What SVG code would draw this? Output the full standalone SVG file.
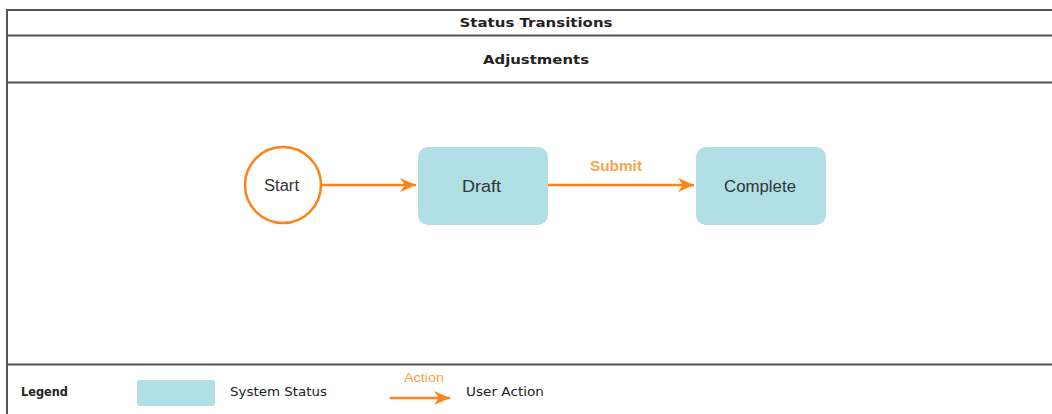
<svg xmlns="http://www.w3.org/2000/svg" width="1052" height="414" viewBox="0 0 1052 414">
<style>
.hdr{font-family:"DejaVu Sans",Verdana,sans-serif;font-weight:bold;font-size:13px;fill:#222;text-anchor:middle}
.lbl{font-family:"Liberation Sans",Arial,sans-serif;font-size:16px;fill:#333;text-anchor:middle}
.leg{font-family:"DejaVu Sans",Verdana,sans-serif;font-size:12px;fill:#222}
.act{font-family:"Liberation Sans",Arial,sans-serif;fill:#f7a54a}
.status{fill:#b0e0e6}
.conn{stroke:#ff8214;stroke-width:2.5;fill:none}
.frame{stroke:#555;stroke-width:2;fill:none}
</style>
<defs>
<marker id="ah" markerWidth="16" markerHeight="14" refX="16" refY="7" orient="auto" markerUnits="userSpaceOnUse" viewBox="0 0 16 14">
<path d="M0,0 L16,7 L0,14 L5,7 Z" fill="#ff8214"/>
</marker>
</defs>
<rect width="1052" height="414" fill="#fff"/>
<g id="frame">
<path class="frame" d="M1052,10 H7 V414"/>
<line class="frame" x1="7" y1="35.5" x2="1052" y2="35.5"/>
<line class="frame" x1="7" y1="82.5" x2="1052" y2="82.5" stroke="#777"/>
<line class="frame" x1="7" y1="364.5" x2="1052" y2="364.5" stroke="#777"/>
<text class="hdr" x="536" y="27" textLength="153" lengthAdjust="spacingAndGlyphs">Status Transitions</text>
<text class="hdr" x="536" y="64" textLength="106" lengthAdjust="spacingAndGlyphs">Adjustments</text>
</g>
<g id="connectors">
<line class="conn" x1="321" y1="185" x2="416" y2="185" marker-end="url(#ah)"/>
<line class="conn" x1="548" y1="185" x2="694" y2="185" marker-end="url(#ah)"/>
<text class="act" x="616" y="171" text-anchor="middle" font-weight="bold" font-size="14" textLength="52" lengthAdjust="spacingAndGlyphs">Submit</text>
</g>
<g id="node-start">
<circle cx="283" cy="185" r="38" fill="#fff" stroke="#ff8214" stroke-width="2.5"/>
<text class="lbl" x="281.5" y="191" textLength="35" lengthAdjust="spacingAndGlyphs">Start</text>
</g>
<g id="node-draft">
<rect class="status" x="418" y="147" width="130" height="78" rx="10"/>
<text class="lbl" x="481.5" y="192" font-size="17" textLength="39" lengthAdjust="spacingAndGlyphs">Draft</text>
</g>
<g id="node-complete">
<rect class="status" x="696" y="147" width="130" height="78" rx="10"/>
<text class="lbl" x="760" y="192" textLength="72" lengthAdjust="spacingAndGlyphs">Complete</text>
</g>
<g id="legend">
<text class="leg" x="21" y="396" font-weight="bold" textLength="47" lengthAdjust="spacingAndGlyphs">Legend</text>
<rect class="status" x="137" y="380" width="78" height="26" rx="3"/>
<text class="leg" x="230" y="396" textLength="97" lengthAdjust="spacingAndGlyphs">System Status</text>
<line class="conn" x1="390" y1="398" x2="450" y2="398" marker-end="url(#ah)"/>
<text class="act" x="424" y="382" text-anchor="middle" font-size="13" textLength="40" lengthAdjust="spacingAndGlyphs">Action</text>
<text class="leg" x="466" y="396" textLength="78" lengthAdjust="spacingAndGlyphs">User Action</text>
</g>
</svg>
